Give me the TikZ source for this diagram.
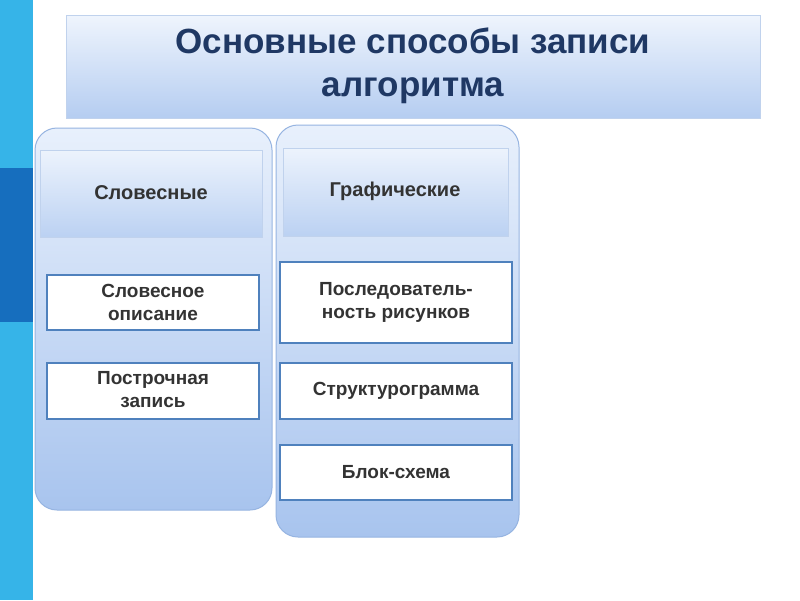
\documentclass[tikz,border=0pt]{standalone}
\usepackage{fontspec}
\setmainfont{Liberation Sans}
\definecolor{lt}{RGB}{232,240,252}
\definecolor{dk}{RGB}{168,196,238}
\definecolor{edge}{RGB}{150,180,225}
\definecolor{ibord}{RGB}{79,129,189}
\definecolor{ttl}{RGB}{31,56,100}
\definecolor{stripe}{RGB}{54,180,232}
\definecolor{stripedk}{RGB}{22,110,190}
\begin{document}
\begin{tikzpicture}[x=1pt,y=-1pt,
  col/.style={draw=edge,line width=1pt,rounded corners=22pt,top color=lt,bottom color=dk},
  hd/.style={top color=lt!80!white,bottom color=dk!70!lt,draw=edge!60!white},
  item/.style={draw=ibord,line width=1.5pt,fill=white},
  itxt/.style={align=center,font=\bfseries\fontsize{19}{23}\selectfont,text=black!80}]
\path[use as bounding box,fill=white] (0,0) rectangle (800,600);
\fill[stripe] (0,0) rectangle (33,600);
\fill[stripedk] (0,168) rectangle (33,322);
\shade[top color=lt!70!white,bottom color=dk!80!lt,draw=edge!60!white] (66,15) rectangle (760,118);
\node[text=ttl,font=\bfseries\fontsize{35}{43}\selectfont,align=center] (t) at (413,66) {Основные способы записи\\алгоритма};
\path[col] (35,128) rectangle (272,510);
\path[col] (276,125) rectangle (519,537);
\shade[hd] (40,150) rectangle (262,237);
\shade[hd] (283,148) rectangle (508,236);
\node[font=\bfseries\fontsize{20}{24}\selectfont,text=black!80] (h1) at (151,193) {Словесные};
\node[font=\bfseries\fontsize{20}{24}\selectfont,text=black!80] (h2) at (395,191) {Графические};
\draw[item] (47,275) rectangle (259,330);
\node[itxt] (a) at (153,302) {Словесное\\описание};
\draw[item] (47,363) rectangle (259,419);
\node[itxt] (b) at (153,390) {Построчная\\запись};
\draw[item] (280,262) rectangle (512,343);
\node[itxt] (c) at (396,302) {Последователь-\\ность рисунков};
\draw[item] (280,363) rectangle (512,419);
\node[itxt] (d) at (396,391) {Структурограмма};
\draw[item] (280,445) rectangle (512,500);
\node[itxt] (e) at (396,472) {Блок-схема};
\end{tikzpicture}
\end{document}
